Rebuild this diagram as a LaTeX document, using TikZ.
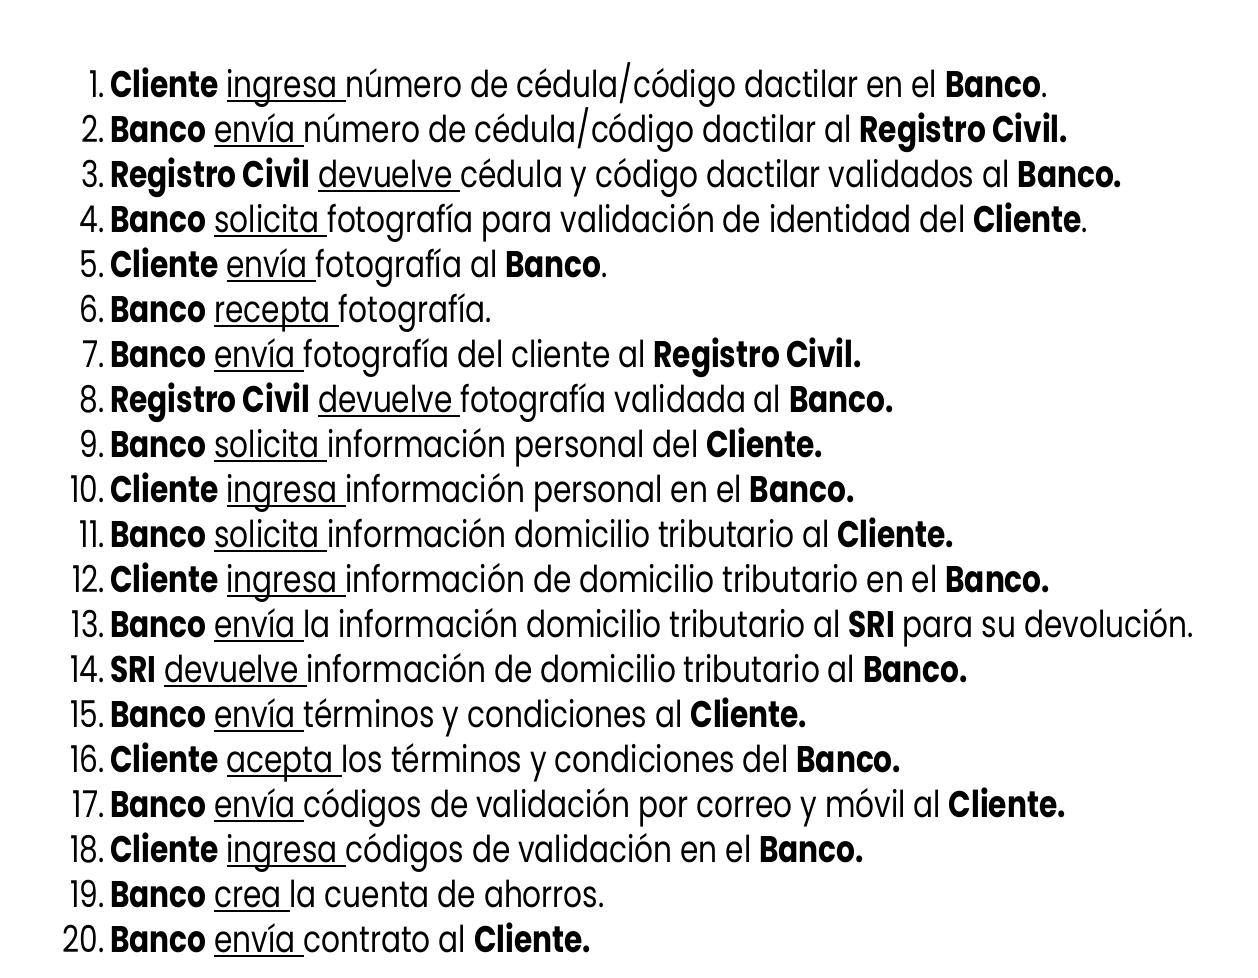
\documentclass[tikz,border=0pt]{standalone}
\usepackage{fontspec}
\setmainfont{Poppins}[FakeStretch=0.8]
\usetikzlibrary{positioning}
% verbo subrayado (con el espacio que le sigue)
\newcommand\accion[1]{\setbox0\hbox{#1\ }\rlap{\rule[-5pt]{\wd0}{1.8pt}}\box0}
\tikzset{
  num/.style={anchor=base east,inner sep=0pt,font=\fontsize{37}{40}\selectfont},
  paso/.style={anchor=base west,inner sep=0pt,xshift=5pt,font=\fontsize{37}{40}\selectfont}
}

\begin{document}
\begin{tikzpicture}[x=1pt,y=1pt]
  \useasboundingbox (0,0) rectangle (1258,-977);
  \node[num] (n1)  at (105,-97)  {1.};
  \node[num] (n2)  at (105,-142) {2.};
  \node[num] (n3)  at (105,-187) {3.};
  \node[num] (n4)  at (105,-232) {4.};
  \node[num] (n5)  at (105,-277) {5.};
  \node[num] (n6)  at (105,-322) {6.};
  \node[num] (n7)  at (105,-367) {7.};
  \node[num] (n8)  at (105,-412) {8.};
  \node[num] (n9)  at (105,-457) {9.};
  \node[num] (n10) at (105,-502) {10.};
  \node[num] (n11) at (105,-547) {11.};
  \node[num] (n12) at (105,-592) {12.};
  \node[num] (n13) at (105,-637) {13.};
  \node[num] (n14) at (105,-682) {14.};
  \node[num] (n15) at (105,-727) {15.};
  \node[num] (n16) at (105,-772) {16.};
  \node[num] (n17) at (105,-817) {17.};
  \node[num] (n18) at (105,-862) {18.};
  \node[num] (n19) at (105,-907) {19.};
  \node[num] (n20) at (105,-952) {20.};
  \node[paso] (p1)  at (n1.base east)  {\textbf{Cliente} \accion{ingresa}número de cédula/código dactilar en el \textbf{Banco}.};
  \node[paso] (p2)  at (n2.base east)  {\textbf{Banco} \accion{envía}número de cédula/código dactilar al \textbf{Registro Civil.}};
  \node[paso] (p3)  at (n3.base east)  {\textbf{Registro Civil} \accion{devuelve}cédula y código dactilar validados al \textbf{Banco.}};
  \node[paso] (p4)  at (n4.base east)  {\textbf{Banco} \accion{solicita}fotografía para validación de identidad del \textbf{Cliente}.};
  \node[paso] (p5)  at (n5.base east)  {\textbf{Cliente} \accion{envía}fotografía al \textbf{Banco}.};
  \node[paso] (p6)  at (n6.base east)  {\textbf{Banco} \accion{recepta}fotografía.};
  \node[paso] (p7)  at (n7.base east)  {\textbf{Banco} \accion{envía}fotografía del cliente al \textbf{Registro Civil.}};
  \node[paso] (p8)  at (n8.base east)  {\textbf{Registro Civil} \accion{devuelve}fotografía validada al \textbf{Banco.}};
  \node[paso] (p9)  at (n9.base east)  {\textbf{Banco} \accion{solicita}información personal del \textbf{Cliente.}};
  \node[paso] (p10) at (n10.base east) {\textbf{Cliente} \accion{ingresa}información personal en el \textbf{Banco.}};
  \node[paso] (p11) at (n11.base east) {\textbf{Banco} \accion{solicita}información domicilio tributario al \textbf{Cliente.}};
  \node[paso] (p12) at (n12.base east) {\textbf{Cliente} \accion{ingresa}información de domicilio tributario en el \textbf{Banco.}};
  \node[paso] (p13) at (n13.base east) {\textbf{Banco} \accion{envía}la información domicilio tributario al \textbf{SRI} para su devolución.};
  \node[paso] (p14) at (n14.base east) {\textbf{SRI} \accion{devuelve}información de domicilio tributario al \textbf{Banco.}};
  \node[paso] (p15) at (n15.base east) {\textbf{Banco} \accion{envía}términos y condiciones al \textbf{Cliente.}};
  \node[paso] (p16) at (n16.base east) {\textbf{Cliente} \accion{acepta}los términos y condiciones del \textbf{Banco.}};
  \node[paso] (p17) at (n17.base east) {\textbf{Banco} \accion{envía}códigos de validación por correo y móvil al \textbf{Cliente.}};
  \node[paso] (p18) at (n18.base east) {\textbf{Cliente} \accion{ingresa}códigos de validación en el \textbf{Banco.}};
  \node[paso] (p19) at (n19.base east) {\textbf{Banco} \accion{crea}la cuenta de ahorros.};
  \node[paso] (p20) at (n20.base east) {\textbf{Banco} \accion{envía}contrato al \textbf{Cliente.}};
\end{tikzpicture}
\end{document}
